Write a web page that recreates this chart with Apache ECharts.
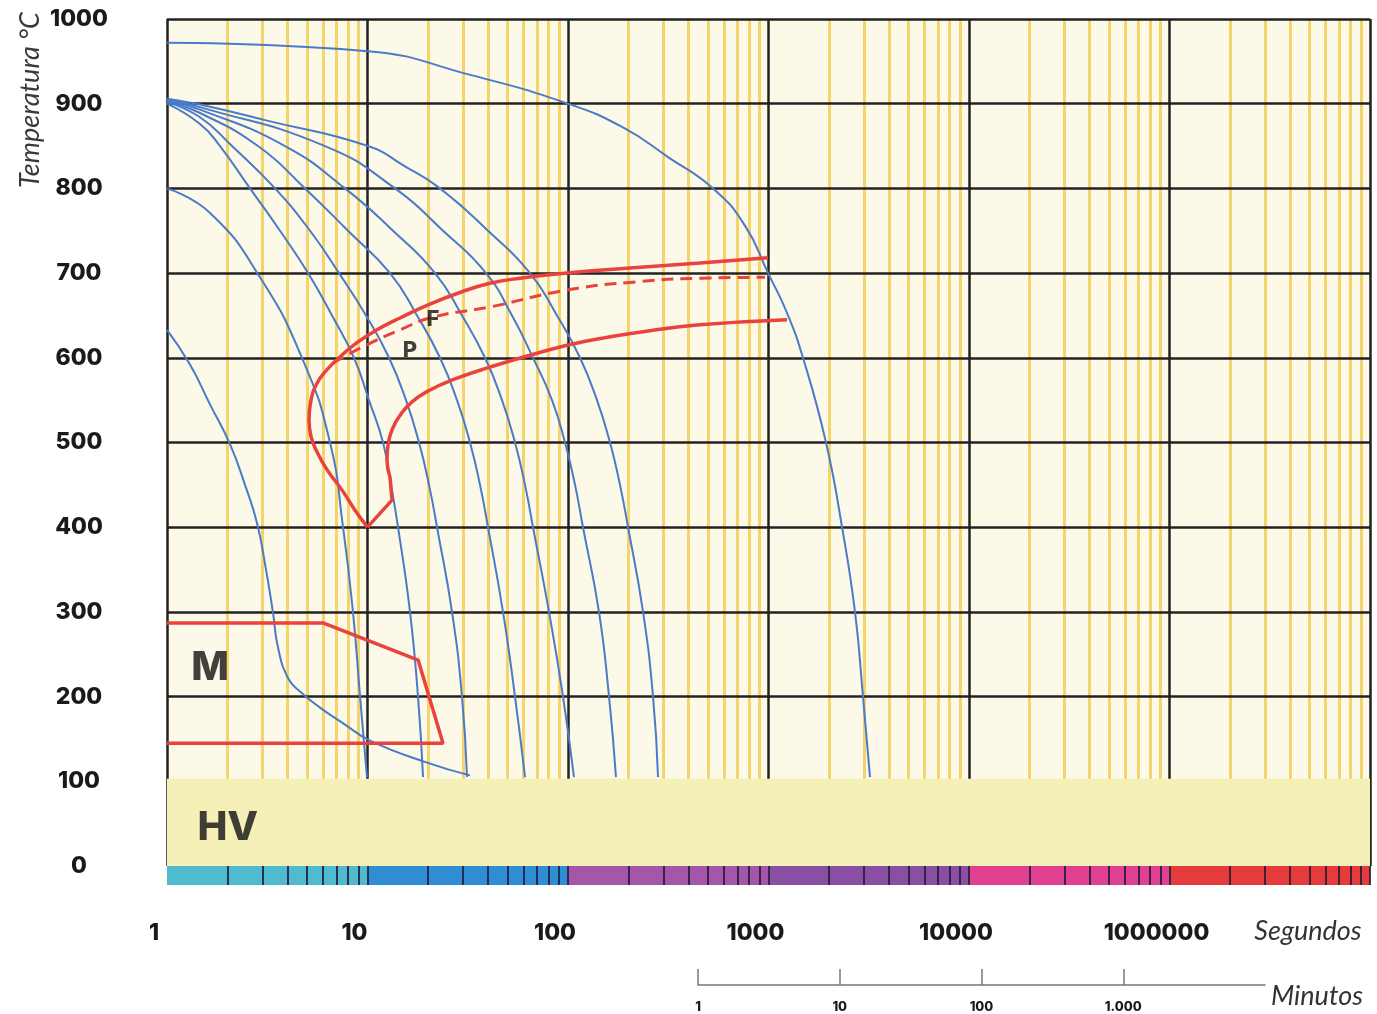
<!DOCTYPE html>
<html><head><meta charset="utf-8">
<script src="https://cdn.jsdelivr.net/npm/echarts@6/dist/echarts.min.js"></script>
<style>html,body{margin:0;padding:0;background:#fff}#c{width:1377px;height:1014px}</style>
</head><body><div id="c"></div>
<script>
// ---- tick labels ----
const secondsTickLabels = ['1','10','100','1000','10000','1000000',''];
const minutesTickLabels = ['1','10','100','1.000',''];
const minuteTicks = [1,10,100,1000];
const tempTicks = [100,200,300,400,500,600,700,800,900,1000];
const decadeTicks = [1,10,100,1000,10000,100000,1000000];
const barColors = ['#50bbcf','#2f8dd4','#a457a9','#8a4fa5','#e13f8f','#e43c3c'];

// ---- cooling curves [time s, temperature C] ----
const curveA = [[1,633],[1.302,592],[1.638,545],[2.061,498],[2.449,450],[2.811,405],[3.117,350],[3.378,299],[3.578,258],[4.013,222],[4.607,206],[5.797,187],[7.723,167],[10.29,148],[19.81,122],[32.45,107]];
const curveB = [[1,800],[1.64,771],[2.91,695],[4.77,597],[6.50,500],[7.55,400],[8.47,299],[9.18,200],[9.94,105]];
const curveC = [[1,900],[1.461,876],[1.838,850],[2.594,800],[3.661,750],[5.050,700],[6.651,650],[8.563,600],[10.17,550],[11.95,500],[13.10,450],[14.20,400],[16.29,300],[17.86,200],[18.92,105]];
const curveD = [[1,902],[1.461,884],[2.110,850],[3.457,800],[5.168,750],[7.208,700],[9.829,650],[12.80,600],[15.56,550],[18.07,500],[20.27,450],[22.22,400],[26.39,300],[29.60,200],[31.35,105]];
const curveE = [[1,903],[1.461,889],[2.843,850],[4.879,800],[7.993,750],[12.95,700],[17.66,650],[22.99,600],[27.95,550],[32.45,500],[36.40,450],[39.90,400],[47.40,300],[54.41,200],[61.04,105]];
const curveF = [[1,904],[1.461,893],[3.877,850],[7.723,800],[13.40,750],[21.71,700],[29.60,650],[38.55,600],[46.86,550],[54.41,500],[61.04,450],[66.91,400],[80.39,300],[94.43,200],[107.1,105]];
const curveG = [[1,905],[1.461,896],[6.138,850],[13.72,800],[23.81,750],[38.99,700],[52.56,650],[66.91,600],[83.22,550],[96.61,500],[108.4,450],[118.8,400],[142.7,300],[160.2,200],[173.5,105]];
const curveH = [[1,906],[1.461,899],[3.154,880],[10.06,850],[15.38,826],[22.99,800],[39.90,750],[64.64,700],[88.13,650],[114.8,600],[139.5,550],[162.0,500],[181.7,450],[199.3,400],[236.7,300],[265.5,200],[281.2,105]];
const curveI = [[1,972],[10,962],[32.5,934],[100,900],[188,872],[315.4,837],[529,800],[763,756],[995,700],[1237,653],[1486,600],[1935,500],[2327,400],[2700,300],[2960,200],[3208,105]];
const blueCurves = [curveA,curveB,curveC,curveD,curveE,curveF,curveG,curveH,curveI];

// ---- transformation regions ----
const redOuter = [[994.3,718],[455.3,712],[203.8,706],[98.86,700],[57.62,694],[40.83,688],[29.60,678],[19.81,662],[14.53,647],[11.15,633],[8.863,618],[7.29,601],[6.281,586],[5.600,570],[5.228,550],[5.109,527],[5.228,507],[5.600,489],[6.281,468],[7.552,442],[8.662,420],[10,400]];
const redNotch = [[10,400],[13.25,432],[12.95,459]];
const redInner = [[12.95,459],[12.51,479],[12.66,497],[13.25,515],[14.53,532],[16.67,548],[20.50,562],[27.32,575],[40.83,589],[64.64,603],[118.8,619],[256.5,632],[455.3,639],[1237,645]];
const redDashed = [[6.73,594],[9.50,613],[14.53,633],[21.21,648],[40.83,660],[98.86,680],[228.7,690],[455.3,694],[960.6,695]];
const martensite = [[1,287],[6.0,287],[17.9,243],[23.8,145],[1,145]];

// ---- region labels [time, temp, text] ----
const regionLabels = [[1.64,234,'M'],[2.01,45,'HV'],[21.2,645,'F'],[16.3,609,'P']];

const minorTickValues = [];
for (let d = 0; d < 6; d++) for (let m = 2; m <= 9; m++) minorTickValues.push(Number((m*Math.pow(10,d)).toPrecision(10)));
const barTickValues = [];
for (let d = 0; d < 6; d++) for (let m = 2; m <= 10; m++) barTickValues.push(Number((m*Math.pow(10,d)).toPrecision(10)));

const numFont = 'Inter';
const mlBase = {silent:true, symbol:['none','none'], label:{show:false}, emphasis:{disabled:true}, animation:false};
const red = '#e8433d';
const SM = 0.5;

const series = [
  {type:'line', xAxisIndex:0, yAxisIndex:0, data:[],
   markLine:Object.assign({}, mlBase, {z:1, lineStyle:{color:'#f6d46c', width:3, type:'solid'},
     data:minorTickValues.map(v=>({xAxis:v}))})},
  {type:'line', xAxisIndex:0, yAxisIndex:0, data:[],
   markLine:Object.assign({}, mlBase, {z:2, lineStyle:{color:'#222', width:2.5, type:'solid'},
     data:decadeTicks.map(v=>({xAxis:v})).concat(tempTicks.map(v=>({yAxis:v})))})},
  {type:'line', xAxisIndex:0, yAxisIndex:0, data:[],
   markArea:{silent:true, z:3, animation:false, itemStyle:{color:'#f5f0b8'},
     data:[[{xAxis:1,yAxis:0},{xAxis:1000000,yAxis:103}]]}}
];
blueCurves.forEach(c => series.push({type:'line', xAxisIndex:0, yAxisIndex:0, data:c, z:10,
  smooth:SM, showSymbol:false, symbol:'none', emphasis:{disabled:true}, silent:true,
  lineStyle:{color:'#4a7bc8', width:2}}));
[redOuter, redInner].forEach(c => series.push({type:'line', data:c, z:11, smooth:SM, showSymbol:false, symbol:'none',
  silent:true, lineStyle:{color:red, width:3.5}}));
series.push({type:'line', data:redNotch, z:11, smooth:false, showSymbol:false, symbol:'none', silent:true, lineStyle:{color:red, width:3.5}});
series.push({type:'line', data:martensite, z:11, smooth:false, showSymbol:false, symbol:'none', silent:true, lineStyle:{color:red, width:3.5}});
series.push({type:'line', data:redDashed, z:11, smooth:SM, showSymbol:false, symbol:'none', silent:true, lineStyle:{color:red, width:3, type:[12,7]}});
series.push({type:'scatter', z:12, symbol:'circle', symbolSize:1, silent:true,
  itemStyle:{color:'rgba(0,0,0,0)'},
  data:regionLabels.map(r=>({value:r, label:{fontSize:(r[2]==='F'||r[2]==='P')?22:40}})),
  label:{show:true, position:'inside', formatter:p=>p.value[2], color:'#111', fontFamily:numFont, fontWeight:800}});
// color bar
series.push({type:'line', xAxisIndex:1, yAxisIndex:1, data:[],
  markArea:{silent:true, z:1, animation:false,
    data:barColors.map((c,i)=>[{xAxis:Math.pow(10,i), itemStyle:{color:c}},{xAxis:Math.pow(10,i+1)}])},
  markLine:Object.assign({}, mlBase, {z:2, lineStyle:{color:'#231a3a', width:2, type:'solid', opacity:0.85},
    data:barTickValues.map(v=>({xAxis:v}))})});
// minutes ticks
series.push({type:'line', xAxisIndex:2, yAxisIndex:2, data:[],
  markLine:Object.assign({}, mlBase, {z:2, lineStyle:{color:'#777', width:1.5, type:'solid'},
    data:minuteTicks.map(v=>({xAxis:v}))})});

const option = {
  animation:false,
  backgroundColor:'#ffffff',
  grid:[
    {left:167, right:7, top:19, height:847, show:true, backgroundColor:'#fdf9e8', borderWidth:0},
    {left:167, right:7, top:866, height:19, show:false},
    {left:698, width:567, top:969, height:16, show:false}
  ],
  xAxis:[
    {type:'log', logBase:10, min:1, max:1000000, gridIndex:0, axisLine:{show:false}, axisTick:{show:false}, axisLabel:{show:false}, splitLine:{show:false}},
    {type:'log', logBase:10, min:1, max:1000000, gridIndex:1, axisLine:{show:false}, axisTick:{show:false}, splitLine:{show:false},
      axisLabel:{show:true, margin:37, padding:[0,26,0,0], fontFamily:numFont, fontWeight:800, fontSize:23, color:'#1a1a1a',
        hideOverlap:false, showMinLabel:true, showMaxLabel:true,
        formatter:v=>secondsTickLabels[Math.round(Math.log10(v))] || ''}},
    {type:'log', logBase:10, min:1, max:10000, gridIndex:2, position:'top', axisLine:{show:true, lineStyle:{color:'#777', width:1.5}},
      axisTick:{show:false}, axisLabel:{show:false}, splitLine:{show:false}},
    {type:'log', logBase:10, min:1, max:10000, gridIndex:2, position:'bottom', axisLine:{show:false}, axisTick:{show:false}, splitLine:{show:false},
      axisLabel:{show:true, margin:16, fontFamily:numFont, fontWeight:800, fontSize:13, color:'#1a1a1a', hideOverlap:false,
        formatter:v=>minutesTickLabels[Math.round(Math.log10(v))] || ''}}
  ],
  yAxis:[
    {type:'value', min:0, max:1000, interval:100, gridIndex:0, axisLine:{show:false}, axisTick:{show:false}, splitLine:{show:false},
      axisLabel:{show:true, align:'center', margin:88, fontFamily:numFont, fontWeight:800, fontSize:23, color:'#1a1a1a',
        formatter:v=>String(v)}},
    {type:'value', min:0, max:1, gridIndex:1, show:false},
    {type:'value', min:0, max:1, gridIndex:2, show:false}
  ],
  graphic:[
    {type:'text', x:30, y:100, rotation:Math.PI/2, silent:true,
      style:{text:'Temperatura °C', fontFamily:'Lato', fontStyle:'italic', fontSize:27, fill:'#3a3a3a', align:'center', verticalAlign:'middle'}},
    {type:'text', x:1308, y:931, silent:true,
      style:{text:'Segundos', fontFamily:'Lato', fontStyle:'italic', fontSize:27, fill:'#333', align:'center', verticalAlign:'middle'}},
    {type:'text', x:1317, y:996, silent:true,
      style:{text:'Minutos', fontFamily:'Lato', fontStyle:'italic', fontSize:27, fill:'#333', align:'center', verticalAlign:'middle'}}
  ],
  series:series
};
const chart = echarts.init(document.getElementById('c'), null, {renderer:'canvas'});
chart.setOption(option);
</script></body></html>
